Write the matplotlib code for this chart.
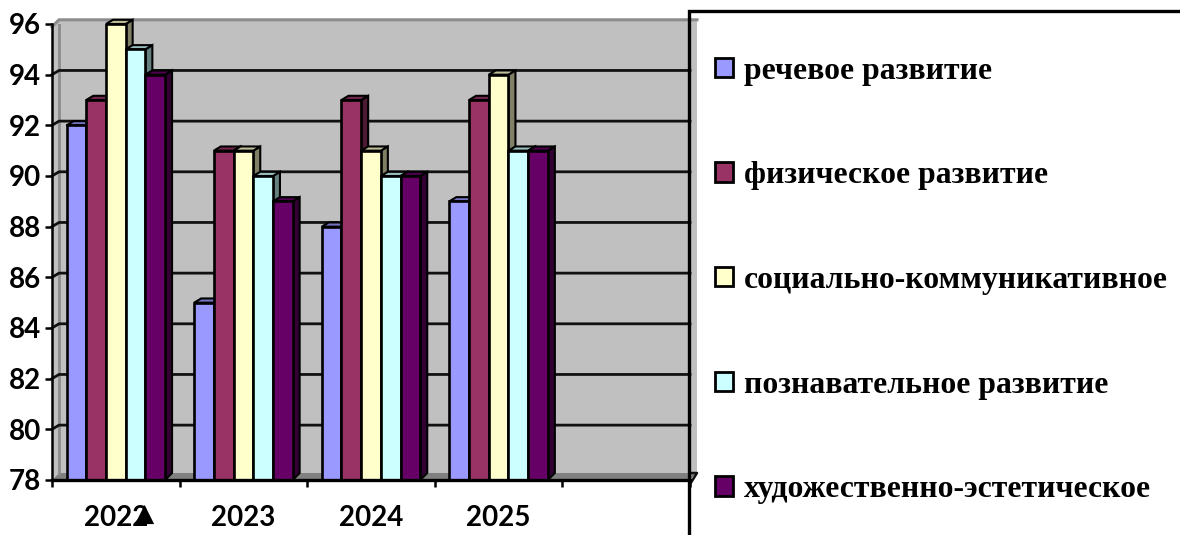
import matplotlib
matplotlib.use("Agg")
import matplotlib.pyplot as plt
from matplotlib.patches import Patch, Polygon, Rectangle

# data
years = ["2022", "2023", "2024", "2025"]
speech = [92, 85, 88, 89]
physical = [93, 91, 93, 93]
social = [96, 91, 91, 94]
cognitive = [95, 90, 90, 91]
art = [94, 89, 90, 91]
series_names = ["речевое развитие", "физическое развитие", "социально-коммуникативное",
                "познавательное развитие", "художественно-эстетическое"]
colors = ["#9999FF", "#993366", "#FFFFCC", "#CCFFFF", "#660066"]
y_ticks = list(range(78, 97, 2))

W, H = 1180, 535
fig = plt.figure(figsize=(W / 100, H / 100), dpi=100)
ax = fig.add_axes([52 / W, (H - 480) / H, 638 / W, 456 / H])
ax.set_xlim(0, 5)
ax.set_ylim(78, 96)

# depth of the fake 3d look, in data units
dx = 7 / (638 / 5)
dy = 7 / (456 / 18)
bar_w = 19.7 / (638 / 5)


def shade(hex_color, k):
    r, g, b = matplotlib.colors.to_rgb(hex_color)
    return (r * k, g * k, b * k)


def face(pts, color, z, lw=0, ec="black"):
    ax.add_patch(Polygon(pts, closed=True, facecolor=color, edgecolor=ec, linewidth=lw,
                         zorder=z, clip_on=False))


# walls and floor
top = 96 + dy * 0.6
face([(dx, 78 + dy), (5 + dx, 78 + dy), (5 + dx, top), (dx, top)], "#C0C0C0", 1)
face([(0, 78), (dx, 78 + dy), (dx, top), (0, top - dy)], "#C0C0C0", 1)
face([(0, 78), (5, 78), (5 + dx, 78 + dy), (dx, 78 + dy)], "#808080", 2)
ax.plot([0, dx, dx, 5 + dx], [top - dy, top, top, top], color="#8C8C8C", lw=2.2, zorder=2,
        clip_on=False)
ax.plot([dx, dx], [78 + dy, top], color="#8C8C8C", lw=2, zorder=2)
for v in y_ticks[1:]:
    if v == 96:
        continue
    ax.plot([0, dx, 5], [v, v + dy * 0.6, v + dy * 0.6], color="#111111", lw=2, zorder=3,
            clip_on=False)
# small dark corner where the floor meets the legend frame
ax.plot([5, 5 + dx, 5], [78 + dy, 78 + dy, 78 - dy * 0.6], color="#111111", lw=1.8, zorder=60,
        clip_on=False)

# bars, left to right so each one covers the side of the previous
all_series = [speech, physical, social, cognitive, art]
for g in range(len(years)):
    left = g + 0.5 - bar_w * 2.5
    for s, vals in enumerate(all_series):
        x0 = left + s * bar_w
        x1 = x0 + bar_w
        v = vals[g]
        z = 5 + g * 10 + s
        c = colors[s]
        face([(x1, 78), (x1 + dx, 78 + dy), (x1 + dx, v + dy * 0.6), (x1, v)], shade(c, 0.5), z, 1.5)
        face([(x0, v), (x1, v), (x1 + dx, v + dy * 0.6), (x0 + dx, v + dy * 0.6)], shade(c, 0.75), z, 1.5)
        ax.bar(x0, v - 78, bottom=78, width=bar_w, align="edge", color=c, edgecolor="black",
               linewidth=1.9, zorder=z + 0.5)

# axes
for side in ["top", "right"]:
    ax.spines[side].set_visible(False)
ax.spines["left"].set_linewidth(1.8)
ax.spines["bottom"].set_linewidth(2.4)
ax.spines["left"].set_zorder(4)
ax.spines["bottom"].set_zorder(60)
ax.set_yticks(y_ticks)
ax.set_yticklabels([str(v) for v in y_ticks], fontfamily="Lato", fontsize=20, fontweight="bold")
ax.tick_params(axis="y", length=5, width=1.8, pad=3)
ax.set_xticks(range(6))
ax.set_xticklabels([])
ax.tick_params(axis="x", which="major", length=5, width=1.8)
ax.set_xticks([i + 0.5 for i in range(len(years))], minor=True)
ax.set_xticklabels(years, minor=True, fontfamily="Lato", fontsize=20, fontweight="bold")
ax.tick_params(axis="x", which="minor", length=0, pad=18)

# smudge over the first year label
fig.text(145 / W, 1 - 514 / H, "▲", family="DejaVu Sans", fontsize=18, ha="center", va="center",
         color="black")

# legend frame runs off the picture on the right and at the bottom
fig.add_artist(Rectangle((689 / W, -0.05), 600 / W, 1.05 - 11 / H, transform=fig.transFigure,
                         facecolor="none", edgecolor="black", linewidth=2.4, zorder=50))
handles = [Patch(facecolor=c, edgecolor="black", linewidth=2) for c in colors]
fig.legend(handles, series_names, loc="upper left", bbox_to_anchor=(715 / W, 1 - 56.5 / H),
           frameon=False, borderpad=0, borderaxespad=0, labelspacing=2.38,
           handlelength=0.56, handleheight=0.56, handletextpad=0.35,
           prop={"family": "Liberation Serif", "weight": "bold", "size": 22.9})

fig.savefig("out.png", dpi=100)
